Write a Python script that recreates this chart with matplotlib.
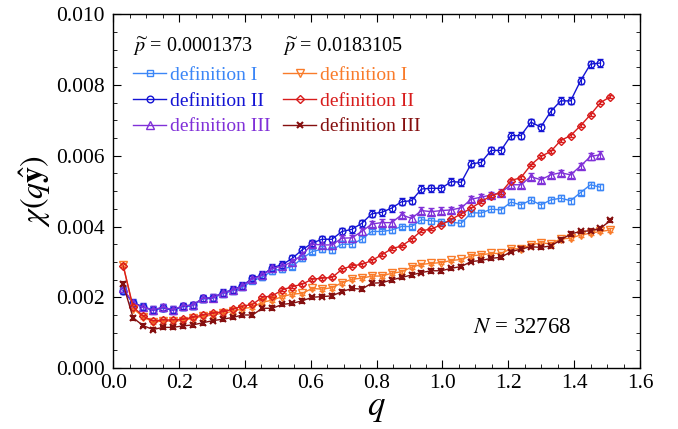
import numpy as np
import matplotlib
matplotlib.use("Agg")
import matplotlib.pyplot as plt
from matplotlib.ticker import MultipleLocator
from matplotlib.lines import Line2D

plt.rcParams['font.family'] = ['Liberation Serif', 'DejaVu Serif']
plt.rcParams['mathtext.fontset'] = 'stix'

# q grid spacing
dq = 0.0302
q_small = dq * np.arange(1, 50)   # p = 0.0001373 series (49 points)
q_large = dq * np.arange(1, 51)   # p = 0.0183105 series (50 points)

# p = 0.0001373
small_def1 = [0.00222, 0.00183, 0.00172, 0.00163, 0.00170, 0.00163, 0.00173, 0.00176, 0.00195, 0.00197,
              0.00210, 0.00218, 0.00228, 0.00247, 0.00257, 0.00275, 0.00280, 0.00287, 0.00310, 0.00329,
              0.00336, 0.00334, 0.00350, 0.00350, 0.00364, 0.00386, 0.00386, 0.00390, 0.00400, 0.00400,
              0.00419, 0.00416, 0.00414, 0.00412, 0.00409, 0.00439, 0.00438, 0.00449, 0.00447, 0.00469,
              0.00461, 0.00475, 0.00461, 0.00475, 0.00480, 0.00473, 0.00496, 0.00518, 0.00511]
small_def2 = [0.00219, 0.00185, 0.00173, 0.00164, 0.00171, 0.00164, 0.00175, 0.00178, 0.00197, 0.00199,
              0.00213, 0.00221, 0.00233, 0.00254, 0.00263, 0.00284, 0.00292, 0.00310, 0.00334, 0.00353,
              0.00364, 0.00364, 0.00386, 0.00392, 0.00409, 0.00436, 0.00440, 0.00452, 0.00470, 0.00473,
              0.00506, 0.00508, 0.00508, 0.00527, 0.00525, 0.00577, 0.00581, 0.00615, 0.00615, 0.00657,
              0.00657, 0.00695, 0.00681, 0.00725, 0.00755, 0.00755, 0.00812, 0.00859, 0.00862]
small_def3 = [0.00225, 0.00183, 0.00172, 0.00165, 0.00172, 0.00165, 0.00176, 0.00178, 0.00197, 0.00199,
              0.00212, 0.00220, 0.00232, 0.00252, 0.00262, 0.00282, 0.00288, 0.00300, 0.00320, 0.00350,
              0.00348, 0.00348, 0.00367, 0.00368, 0.00386, 0.00407, 0.00411, 0.00411, 0.00433, 0.00423,
              0.00445, 0.00442, 0.00445, 0.00447, 0.00453, 0.00477, 0.00483, 0.00489, 0.00496, 0.00518,
              0.00518, 0.00541, 0.00532, 0.00546, 0.00552, 0.00546, 0.00571, 0.00598, 0.00603]

# p = 0.0183105
large_def1 = [0.00292, 0.00168, 0.00145, 0.00130, 0.00133, 0.00133, 0.00134, 0.00141, 0.00146, 0.00150,
              0.00155, 0.00160, 0.00168, 0.00172, 0.00186, 0.00192, 0.00202, 0.00209, 0.00211, 0.00225,
              0.00223, 0.00227, 0.00241, 0.00251, 0.00254, 0.00260, 0.00260, 0.00268, 0.00272, 0.00285,
              0.00293, 0.00296, 0.00298, 0.00304, 0.00307, 0.00317, 0.00320, 0.00324, 0.00324, 0.00337,
              0.00337, 0.00348, 0.00354, 0.00351, 0.00365, 0.00367, 0.00376, 0.00381, 0.00386, 0.00390]
large_def2 = [0.00289, 0.00173, 0.00147, 0.00133, 0.00136, 0.00136, 0.00138, 0.00143, 0.00150, 0.00155,
              0.00159, 0.00166, 0.00175, 0.00180, 0.00200, 0.00204, 0.00221, 0.00230, 0.00237, 0.00251,
              0.00254, 0.00256, 0.00279, 0.00289, 0.00293, 0.00304, 0.00320, 0.00337, 0.00345, 0.00364,
              0.00388, 0.00393, 0.00405, 0.00420, 0.00436, 0.00452, 0.00470, 0.00487, 0.00496, 0.00530,
              0.00538, 0.00574, 0.00598, 0.00612, 0.00643, 0.00657, 0.00685, 0.00716, 0.00750, 0.00767]
large_def3 = [0.00237, 0.00142, 0.00120, 0.00109, 0.00115, 0.00115, 0.00119, 0.00122, 0.00128, 0.00134,
              0.00138, 0.00143, 0.00150, 0.00150, 0.00169, 0.00169, 0.00180, 0.00183, 0.00190, 0.00200,
              0.00202, 0.00204, 0.00216, 0.00225, 0.00223, 0.00240, 0.00241, 0.00249, 0.00256, 0.00263,
              0.00270, 0.00275, 0.00275, 0.00282, 0.00287, 0.00301, 0.00304, 0.00310, 0.00313, 0.00329,
              0.00336, 0.00343, 0.00341, 0.00345, 0.00362, 0.00379, 0.00386, 0.00388, 0.00395, 0.00417]

# typical error-bar half widths
err_small = [0.00008, 0.00010, 0.00009]
err_large = [0.00005, 0.00004, 0.00005]

labels = ['definition I', 'definition II', 'definition III']
colors_small = ['#3b86f7', '#1414d4', '#8030d8']
colors_large = ['#f97b2a', '#d81c1c', '#850f0f']
markers_small = ['s', 'o', '^']
markers_large = ['v', 'D', 'x']

fig = plt.figure(figsize=(6.78, 4.29), dpi=100)
ax = fig.add_axes([0.167, 0.142, 0.777, 0.825])

h_small, h_large = [], []
for y, c, m, e in zip([small_def1, small_def2, small_def3], colors_small, markers_small, err_small):
    ms = 4.8 if m != '^' else 5.2
    ax.errorbar(q_small, y, yerr=e, color=c, marker=m, ms=ms, mfc='none', mec=c, mew=1.0,
                lw=1.0, elinewidth=0.8, capsize=2, capthick=0.8)
    h_small.append(Line2D([], [], color=c, marker=m, ms=ms, mfc='none', mec=c, mew=1.0, lw=1.0))
for y, c, m, e in zip([large_def1, large_def2, large_def3], colors_large, markers_large, err_large):
    ms = {'v': 5.2, 'D': 3.6, 'x': 5}[m]
    mew = 1.5 if m == 'x' else 1.0
    ax.errorbar(q_large, y, yerr=e, color=c, marker=m, ms=ms, mfc='none', mec=c, mew=mew,
                lw=1.0, elinewidth=0.8, capsize=2, capthick=0.8)
    h_large.append(Line2D([], [], color=c, marker=m, ms=ms, mfc='none', mec=c, mew=mew, lw=1.0))

ax.set_xlim(0, 1.6)
ax.set_ylim(0, 0.010)
ax.xaxis.set_major_locator(MultipleLocator(0.2))
ax.xaxis.set_minor_locator(MultipleLocator(0.05))
ax.yaxis.set_major_locator(MultipleLocator(0.002))
ax.yaxis.set_minor_locator(MultipleLocator(0.0005))
ax.xaxis.set_major_formatter(plt.FuncFormatter(lambda v, p: f"{v:.1f}"))
ax.yaxis.set_major_formatter(plt.FuncFormatter(lambda v, p: f"{v:.3f}"))
ax.tick_params(which='both', direction='in', top=True, right=True, labelsize=15.5)
ax.tick_params(axis='x', which='major', length=6, pad=4)
ax.tick_params(axis='y', which='major', length=6, pad=6)
ax.tick_params(which='minor', length=3)
for s in ax.spines.values():
    s.set_linewidth(1.0)

ax.set_xlabel('$q$', fontsize=25, labelpad=-1)
ax.set_ylabel(r'$\chi(q\hat{\mathbf{y}})$', fontsize=23, labelpad=2)

common = dict(loc='upper left', title_fontsize=14.5, fontsize=14, frameon=False,
              handlelength=1.7, handletextpad=0.2, labelspacing=0.42,
              labelcolor='linecolor', alignment='left', borderaxespad=0, borderpad=0)
leg1 = ax.legend(h_small, labels, bbox_to_anchor=(0.038, 0.94),
                 title=r'$\widetilde{p}$ = 0.0001373', **common)
ax.add_artist(leg1)
leg2 = ax.legend(h_large, labels, bbox_to_anchor=(0.323, 0.94),
                 title=r'$\widetilde{p}$ = 0.0183105', **common)

ax.text(0.683, 0.098, '$N$ = 32768', transform=ax.transAxes, fontsize=16.5)

fig.savefig('out.png', dpi=100)
